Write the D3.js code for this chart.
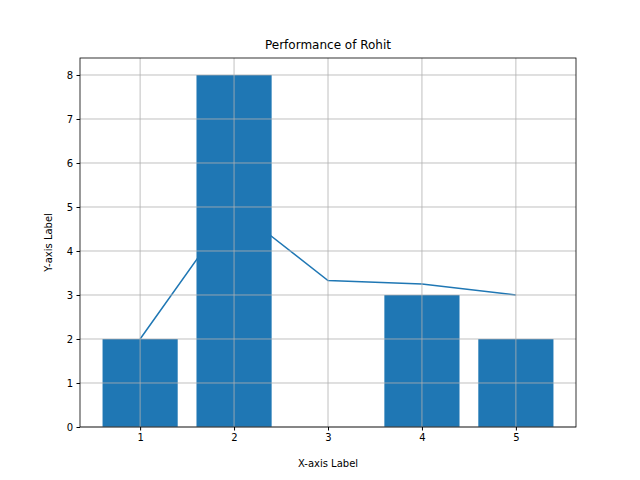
<!DOCTYPE html>
<html><head><meta charset="utf-8">
<script src="https://cdn.jsdelivr.net/npm/d3@7"></script>
<style>body{margin:0;background:#fff}text{font-family:"DejaVu Sans",sans-serif}</style>
</head><body>
<svg id="chart" width="640" height="480"></svg>
<script>
const matches = [1, 2, 3, 4, 5];
const runs = [2, 8, 0, 3, 2];
const average = [2, 5, 3.33, 3.25, 3];
const yTicks = [0, 1, 2, 3, 4, 5, 6, 7, 8];

const svg = d3.select('#chart');
const L = 80, R = 576, T = 58, B = 427;
const x = d3.scaleLinear().domain([0.36, 5.64]).range([L, R]);
const y = d3.scaleLinear().domain([0, 8.386]).range([B, T]);
const blue = '#1f77b4';

// line sits under the bars
svg.append('path')
  .datum(matches.map((m, i) => [m, average[i]]))
  .attr('d', d3.line().x(d => x(d[0])).y(d => y(d[1])))
  .attr('fill', 'none').attr('stroke', blue).attr('stroke-width', 1.5);

svg.append('g').selectAll('rect').data(matches).join('rect')
  .attr('x', d => x(d - 0.4)).attr('width', x(0.8) - x(0))
  .attr('y', (d, i) => y(runs[i])).attr('height', (d, i) => B - y(runs[i]))
  .attr('fill', blue);

// grid on top
const grid = svg.append('g').attr('stroke', '#b0b0b0').attr('stroke-width', 0.8);
matches.forEach(m => grid.append('line').attr('x1', x(m)).attr('x2', x(m)).attr('y1', T).attr('y2', B));
yTicks.forEach(t => grid.append('line').attr('x1', L).attr('x2', R).attr('y1', y(t)).attr('y2', y(t)));

const xAxis = svg.append('g').attr('transform', `translate(0,${B})`)
  .call(d3.axisBottom(x).tickValues(matches).tickFormat(d3.format('d')).tickSizeOuter(0).tickSize(3.5));
const yAxis = svg.append('g').attr('transform', `translate(${L},0)`)
  .call(d3.axisLeft(y).tickValues(yTicks).tickFormat(d3.format('d')).tickSizeOuter(0).tickSize(3.5));
[xAxis, yAxis].forEach(a => {
  a.select('.domain').remove();
  a.selectAll('text').attr('font-size', 10).attr('fill', '#000').style('font-family', '"DejaVu Sans",sans-serif');
  a.selectAll('line').attr('stroke', '#000');
});
xAxis.selectAll('text').attr('dy', '0.71em').attr('y', 7);
yAxis.selectAll('text').attr('x', -7);

svg.append('rect').attr('x', L).attr('y', T).attr('width', R - L).attr('height', B - T)
  .attr('fill', 'none').attr('stroke', '#000').attr('stroke-width', 0.8);

svg.append('text').attr('x', (L + R) / 2).attr('y', 49).attr('text-anchor', 'middle')
  .attr('font-size', 12).text('Performance of Rohit');
svg.append('text').attr('x', (L + R) / 2).attr('y', 467).attr('text-anchor', 'middle')
  .attr('font-size', 10).text('X-axis Label');
svg.append('text').attr('transform', `translate(52,${(T + B) / 2}) rotate(-90)`).attr('text-anchor', 'middle')
  .attr('font-size', 10).text('Y-axis Label');
</script>
</body></html>
